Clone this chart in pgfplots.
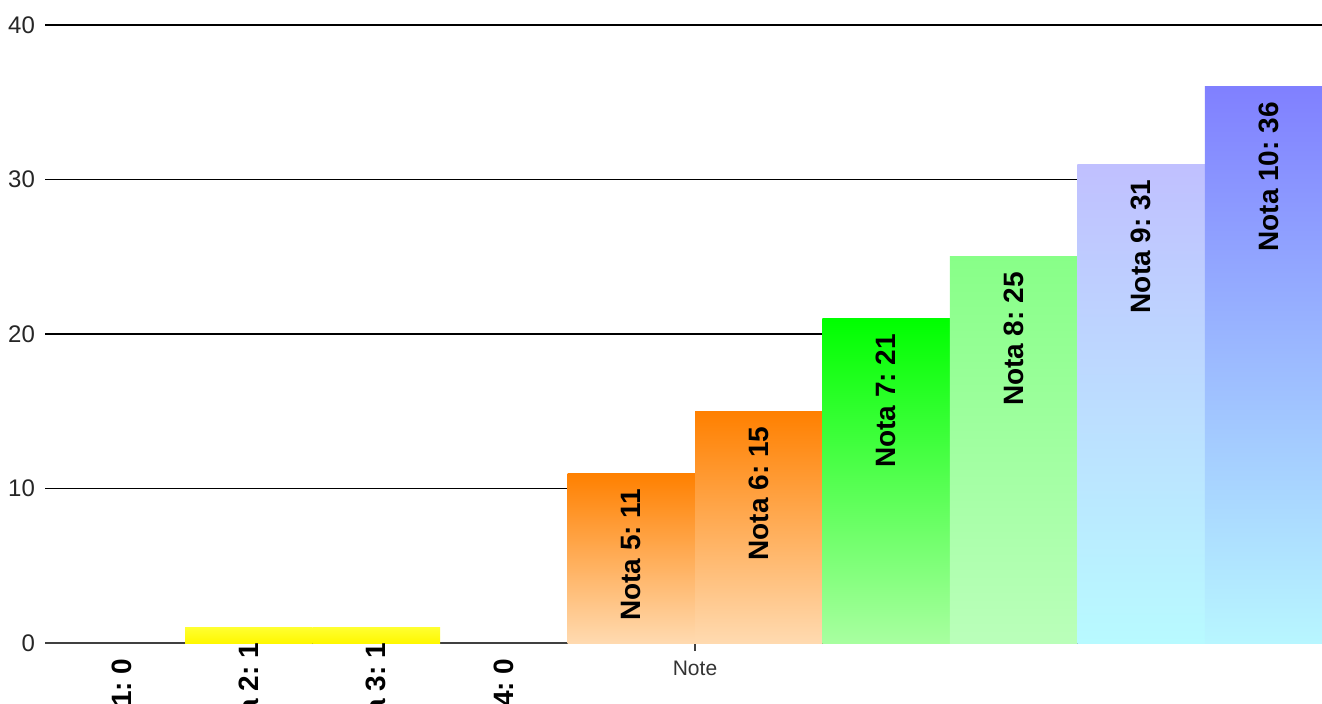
\documentclass[border=0pt]{standalone}
\usepackage{pgfplots}
\pgfplotsset{compat=1.18}
\usepackage{fontspec}
\setmainfont{Liberation Sans}
\frenchspacing
\definecolor{ytop}{HTML}{FFFF30}
\definecolor{ybot}{HTML}{FFF800}
\definecolor{otop}{HTML}{FF8000}
\definecolor{obot}{HTML}{FFDAB0}
\definecolor{g1top}{HTML}{00FF00}
\definecolor{g1bot}{HTML}{A8FFA0}
\definecolor{g2top}{HTML}{88FF88}
\definecolor{g2bot}{HTML}{BAFFBA}
\definecolor{b1top}{HTML}{C0C0FF}
\definecolor{b1bot}{HTML}{B8FAFF}
\definecolor{b2top}{HTML}{8080FF}
\definecolor{b2bot}{HTML}{B8F6FF}
\begin{document}
\frenchspacing
\begin{tikzpicture}
\useasboundingbox (0,0) rectangle (661pt,351.5pt);
\clip (0,0) rectangle (661pt,351.5pt);
\begin{axis}[
  at={(22.5pt,30pt)}, anchor=south west,
  scale only axis, width=650pt, height=309pt,
  xmin=0.4, xmax=10.6, ymin=0, ymax=40,
  axis x line*=bottom, axis y line*=left,
  x axis line style={draw=black!75, line width=1pt},
  y axis line style={draw=none},
  ytick={0,10,20,30,40},
  ymajorgrids, grid style={black, line width=0.75pt},
  ytick style={draw=none},
  xtick={5.5}, xticklabels={Note},
  xtick style={draw=black!75, line width=1pt},
  major tick length=4pt, tick align=outside,
  yticklabel style={font=\fontsize{12}{12}\selectfont, text=black!85, xshift=2.5pt},
  xticklabel style={font=\fontsize{10.5}{12}\selectfont, text=black!80, yshift=-1.5pt},
  /pgf/number format/assume math mode=true,
  clip=false,
  ybar, bar width=1, bar shift=0pt,
  nodes near coords, point meta=explicit symbolic,
  every node near coord/.append style={rotate=90, anchor=east, inner xsep=7.5pt, font=\bfseries\fontsize{14}{14}\selectfont\frenchspacing, text=black},
]
\addplot[draw=none, fill=none] coordinates {(1,0) [Nota 1: 0] (4,0) [Nota 4: 0]};
\addplot[draw=none, top color=ytop, bottom color=ybot] coordinates {(2,1) [Nota 2: 1]};
\addplot[draw=none, top color=ytop, bottom color=ybot] coordinates {(3,1) [Nota 3: 1]};
\addplot[draw=none, top color=otop, bottom color=obot] coordinates {(5,11) [Nota 5: 11]};
\addplot[draw=none, top color=otop, bottom color=obot] coordinates {(6,15) [Nota 6: 15]};
\addplot[draw=none, top color=g1top, bottom color=g1bot] coordinates {(7,21) [Nota 7: 21]};
\addplot[draw=none, top color=g2top, bottom color=g2bot] coordinates {(8,25) [Nota 8: 25]};
\addplot[draw=none, top color=b1top, bottom color=b1bot] coordinates {(9,31) [Nota 9: 31]};
\addplot[draw=none, top color=b2top, bottom color=b2bot] coordinates {(10,36) [Nota 10: 36]};
\end{axis}
\end{tikzpicture}
\end{document}
